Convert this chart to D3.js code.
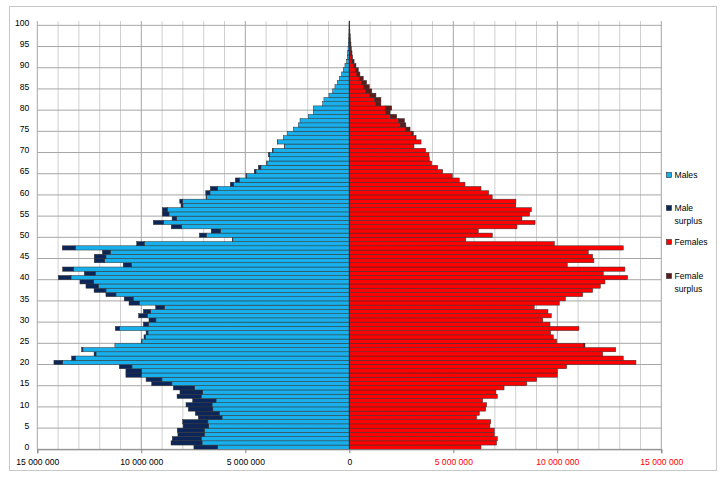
<!DOCTYPE html>
<html><head><meta charset="utf-8">
<script src="https://cdn.jsdelivr.net/npm/d3@7"></script>
<style>
html,body{margin:0;padding:0;background:#fff;}
svg{display:block;font-family:"Liberation Sans",Arial,sans-serif;}
</style></head>
<body><svg id="c" width="721" height="478"></svg>
<script>
// Ages 0..100
const ages = d3.range(0, 101);
// Population in millions, by single year of age (index = age)
const males = [
 7.47, 8.57, 8.51, 8.24, 8.27, 7.99, 8.01, 7.26, 7.40, 7.74,
 7.85, 7.53, 8.28, 8.14, 8.46, 9.50, 9.77, 10.74, 10.74, 11.06,
 14.20, 13.35, 12.27, 12.87, 11.27, 9.98, 9.87, 9.77, 11.25, 9.90,
 9.63, 10.13, 9.90, 9.31, 10.59, 10.82, 11.70, 12.27, 12.66, 12.95,
 13.99, 12.74, 13.78, 10.87, 12.26, 12.26, 11.87, 13.80, 10.22, 5.62,
 7.21, 6.64, 8.56, 9.42, 8.52, 8.99, 8.99, 8.09, 8.15, 6.89,
 6.90, 6.68, 5.72, 5.48, 4.97, 4.57, 4.37, 3.97, 3.85, 3.89,
 3.70, 3.12, 3.46, 3.17, 2.98, 2.69, 2.45, 2.37, 1.97, 1.73,
 1.73, 1.28, 1.22, 0.98, 0.80, 0.69, 0.58, 0.48, 0.37, 0.29,
 0.21, 0.13, 0.10, 0.08, 0.06, 0.045, 0.03, 0.02, 0.013, 0.008,
 0.005];
const females = [
 6.33, 7.08, 7.12, 6.97, 6.97, 6.76, 6.80, 6.12, 6.25, 6.56,
 6.60, 6.41, 7.12, 7.05, 7.44, 8.53, 9.01, 10.00, 10.00, 10.45,
 13.78, 13.17, 12.18, 12.81, 11.33, 9.97, 9.81, 9.68, 11.04, 9.65,
 9.30, 9.71, 9.55, 8.89, 10.10, 10.39, 11.22, 11.70, 12.07, 12.29,
 13.38, 12.21, 13.25, 10.48, 11.76, 11.70, 11.49, 13.17, 9.86, 5.60,
 6.88, 6.20, 8.06, 8.93, 8.30, 8.67, 8.75, 8.00, 8.01, 6.87,
 6.70, 6.33, 5.56, 5.29, 4.95, 4.49, 4.25, 3.96, 3.85, 3.83,
 3.67, 3.11, 3.45, 3.21, 3.08, 2.92, 2.72, 2.65, 2.28, 1.96,
 2.04, 1.52, 1.52, 1.28, 1.08, 0.96, 0.83, 0.67, 0.51, 0.43,
 0.32, 0.23, 0.16, 0.13, 0.10, 0.08, 0.06, 0.045, 0.03, 0.02,
 0.015];
const xTicks = [-15e6, -10e6, -5e6, 0, 5e6, 10e6, 15e6];
const yTickAges = d3.range(0, 101, 5);
const legendLabels = [["Males"], ["Male", "surplus"], ["Females"], ["Female", "surplus"]];
const colors = ["#18b0ec", "#0c2659", "#ff0000", "#5c1c1c"];

const svg = d3.select("#c");
const M = 1e6;
const x = d3.scaleLinear().domain([-15e6, 15e6]).range([37.3, 661.3]);
const y = d3.scaleBand().domain(ages.slice().reverse()).range([21.1, 449.3]).padding(0);
const bw = y.bandwidth();

// outer border
svg.append("rect").attr("x", 9.5).attr("y", 6.5).attr("width", 707).attr("height", 464)
  .attr("fill", "#fff").attr("stroke", "#c8c8c8").attr("stroke-width", 1);

// vertical gridlines every 1M
const g = svg.append("g");
d3.range(-15, 16).forEach(v => {
  const major = v % 5 === 0;
  g.append("line").attr("x1", x(v * M)).attr("x2", x(v * M))
    .attr("y1", 21.1).attr("y2", 449.3)
    .attr("stroke", major ? "#a6a6a6" : "#d0d0d0").attr("stroke-width", 1);
});
// horizontal gridlines at every 5 years (bottom edge of the age band)
yTickAges.forEach(a => {
  const yy = y(a) + bw;
  g.append("line").attr("x1", x(-15e6)).attr("x2", x(15e6))
    .attr("y1", yy).attr("y2", yy).attr("stroke", "#a6a6a6").attr("stroke-width", 1);
});

// bars
const bars = svg.append("g").attr("stroke", "#303030").attr("stroke-width", 0.5);
ages.forEach(a => {
  const m = males[a] * M, f = females[a] * M, c = Math.min(m, f);
  const yy = y(a);
  bars.append("rect").attr("x", x(-c)).attr("y", yy).attr("width", x(0) - x(-c)).attr("height", bw).attr("fill", colors[0]);
  if (m > c) bars.append("rect").attr("x", x(-m)).attr("y", yy).attr("width", x(-c) - x(-m)).attr("height", bw).attr("fill", colors[1]);
  bars.append("rect").attr("x", x(0)).attr("y", yy).attr("width", x(c) - x(0)).attr("height", bw).attr("fill", colors[2]);
  if (f > c) bars.append("rect").attr("x", x(c)).attr("y", yy).attr("width", x(f) - x(c)).attr("height", bw).attr("fill", colors[3]);
});

// category axis at 0
svg.append("line").attr("x1", x(0)).attr("x2", x(0)).attr("y1", 21.1).attr("y2", 449.3)
  .attr("stroke", "#333").attr("stroke-width", 1);

// bottom value axis
const fmt = v => d3.format(",")(Math.abs(v)).replace(/,/g, " ");
const xAxis = d3.axisBottom(x).tickValues(xTicks).tickSize(4).tickFormat(fmt);
const xa = svg.append("g").attr("transform", "translate(0,449.3)").call(xAxis);
xa.select(".domain").attr("stroke", "#868686");
xa.selectAll(".tick line").attr("stroke", "#868686");
xa.selectAll(".tick text").attr("font-size", 8.6).attr("font-family", "Liberation Sans, Arial, sans-serif")
  .attr("dy", "1.05em").attr("fill", d => d > 0 ? "#ff0000" : "#000");

// left age labels
const yAxis = d3.axisLeft(y).tickValues(yTickAges).tickSize(0).tickPadding(8);
const ya = svg.append("g").attr("transform", "translate(37.3,0)").call(yAxis);
ya.select(".domain").remove();
ya.selectAll(".tick text").attr("font-size", 8.6).attr("font-family", "Liberation Sans, Arial, sans-serif").attr("fill", "#000");

// legend
const legY = [175, 208, 242, 276];
const lg = svg.append("g").attr("font-size", 8.6).attr("fill", "#000");
legendLabels.forEach((lines, i) => {
  lg.append("rect").attr("x", 666.5).attr("y", legY[i] - 2.5).attr("width", 5).attr("height", 5)
    .attr("fill", colors[i]).attr("stroke", "#2b2b2b").attr("stroke-width", 0.6);
  lines.forEach((t, j) => {
    lg.append("text").attr("x", 674.5).attr("y", legY[i] + j * 12.5).attr("dy", "0.35em").text(t);
  });
});
</script></body></html>
